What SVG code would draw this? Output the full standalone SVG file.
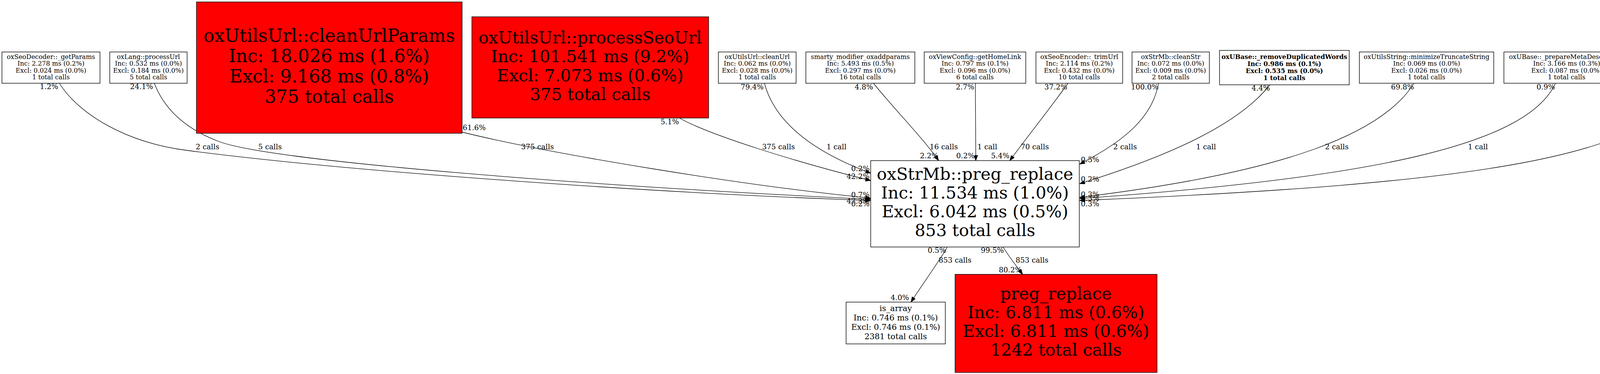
<svg xmlns="http://www.w3.org/2000/svg" width="4495" height="957" viewBox="0 0 4495 957">
<style>
text{font-family:"DejaVu Serif","Liberation Serif",serif;text-anchor:middle;fill:#000}
.node rect{fill:#fff;stroke:#000;stroke-width:1.4}
.node.hot rect{fill:#ff0000}
.s{font-size:16.3px}
.bold{font-weight:bold}
.m{font-size:20.5px}
.L{font-size:43px}
.XL{font-size:46px}
.edges path{fill:none;stroke:#000;stroke-width:1.3;marker-end:url(#arrow)}
.edges text{font-size:18.5px}
.st{text-anchor:start}
.en{text-anchor:end}
</style>
<defs>
<marker id="arrow" markerUnits="userSpaceOnUse" markerWidth="15" markerHeight="11" refX="13.5" refY="5" orient="auto">
<path d="M0,0 L13.5,5 L0,10 z" fill="#000" stroke="#000" stroke-width="1"/>
</marker>
</defs>
<rect x="0" y="0" width="4495" height="957" fill="#fff"/>

<g id="connectors" class="edges">
<g id="e-getParams">
<path d="M152,213 C200,290 320,365 480,385 C900,440 1700,495 2229,513"/>
<text x="125.5" y="228">1.2%</text>
<text class="st" x="501" y="382">2 calls</text>
</g>
<g id="e-processUrl">
<path d="M395,213 C415,265 460,325 563,363 C700,413 1500,475 2229,510"/>
<text x="362.5" y="228">24.1%</text>
<text class="st" x="661" y="382">5 calls</text>
</g>
<g id="e-cleanUrlParams">
<path d="M1183,338 C1400,392 1900,475 2229,507"/>
<text x="1214" y="333">61.6%</text>
<text class="st" x="1334" y="382">375 calls</text>
</g>
<g id="e-processSeoUrl">
<path d="M1739,302 C1820,347 2040,415 2229,462"/>
<text x="1714.5" y="318">5.1%</text>
<text class="st" x="1951" y="382">375 calls</text>
</g>
<g id="e-cleanUrl">
<path d="M1957,213 C1980,300 2060,380 2229,443"/>
<text x="1925.5" y="229">79.4%</text>
<text class="st" x="2116" y="382">1 call</text>
</g>
<g id="e-smarty">
<path d="M2236,213 C2290,280 2360,350 2403,411"/>
<text x="2211.5" y="229">4.8%</text>
<text class="st" x="2380" y="382">16 calls</text>
</g>
<g id="e-homeLink">
<path d="M2497,213 L2498,411"/>
<text x="2470.5" y="229">2.7%</text>
<text class="st" x="2502" y="382">1 call</text>
</g>
<g id="e-trimUrl">
<path d="M2734,213 C2690,275 2630,350 2585,411"/>
<text x="2703" y="229">37.2%</text>
<text class="st" x="2613" y="382">70 calls</text>
</g>
<g id="e-cleanStr">
<path d="M2966,213 C2950,300 2880,360 2764,420"/>
<text x="2930.5" y="229">100.0%</text>
<text class="st" x="2850" y="382">2 calls</text>
</g>
<g id="e-removeDup">
<path d="M3251,217 C3170,320 2990,400 2764,470"/>
<text x="3227.5" y="232">4.4%</text>
<text class="st" x="3062" y="382">1 call</text>
</g>
<g id="e-minimize">
<path d="M3620,213 C3540,340 3300,440 2764,505"/>
<text x="3590.5" y="229">69.8%</text>
<text class="st" x="3392" y="382">2 calls</text>
</g>
<g id="e-metaDesc">
<path d="M3982,213 C3910,370 3520,455 2764,508"/>
<text x="3957" y="229">0.9%</text>
<text class="st" x="3758" y="382">1 call</text>
</g>
<g id="e-canonical">
<path d="M4316,213 C4230,400 3800,470 2764,513"/>
<text x="4286.5" y="229">54.1%</text>
<text class="st" x="4110" y="382">2 calls</text>
</g>
<g id="e-is_array">
<path d="M2425,632 C2410,660 2360,730 2332,773"/>
<text class="st" x="2375" y="647">0.5%</text>
<text class="st" x="2403" y="672">853 calls</text>
<text class="st" x="2280" y="768">4.0%</text>
</g>
<g id="e-preg_replace">
<path d="M2568,632 C2585,660 2605,685 2618,702"/>
<text class="st" x="2511" y="647">99.5%</text>
<text class="st" x="2600" y="672">853 calls</text>
<text class="st" x="2557" y="697">80.2%</text>
</g>
<g id="head-labels">
<text class="en" x="2226" y="438">0.2%</text>
<text class="en" x="2226" y="458">42.2%</text>
<text class="en" x="2226" y="505">0.7%</text>
<text class="en" x="2226" y="521">47.3%</text>
<text class="en" x="2226" y="528">0.2%</text>
<text class="st" x="2355" y="405">2.2%</text>
<text class="st" x="2448" y="405">0.2%</text>
<text class="st" x="2537" y="405">5.4%</text>
<text class="st" x="2767" y="415">0.5%</text>
<text class="st" x="2767" y="465">0.2%</text>
<text class="st" x="2767" y="504">0.3%</text>
<text class="st" x="2767" y="514">0.3%</text>
<text class="st" x="2767" y="528">0.3%</text>
</g>
</g>

<g id="n-getParams" class="node">
<rect x="5" y="133" width="251" height="80"/>
<text class="s" x="130.5" y="151">oxSeoDecoder::_getParams</text>
<text class="s" x="130.5" y="168.3">Inc: 2.278 ms (0.2%)</text>
<text class="s" x="130.5" y="185.6">Excl: 0.024 ms (0.0%)</text>
<text class="s" x="130.5" y="203">1 total calls</text>
</g>
<g id="n-processUrl" class="node">
<rect x="281" y="133" width="198" height="80"/>
<text class="s" x="380" y="151">oxLang::processUrl</text>
<text class="s" x="380" y="168.3">Inc: 0.532 ms (0.0%)</text>
<text class="s" x="380" y="185.6">Excl: 0.184 ms (0.0%)</text>
<text class="s" x="380" y="203">5 total calls</text>
</g>
<g id="n-cleanUrlParams" class="node hot">
<rect x="503" y="5" width="680" height="336"/>
<text class="XL" x="843" y="106.5">oxUtilsUrl::cleanUrlParams</text>
<text class="XL" x="843" y="158.5">Inc: 18.026 ms (1.6%)</text>
<text class="XL" x="843" y="210.5">Excl: 9.168 ms (0.8%)</text>
<text class="XL" x="843" y="262.5">375 total calls</text>
</g>
<g id="n-processSeoUrl" class="node hot">
<rect x="1208" y="43" width="606" height="259"/>
<text class="L" x="1511" y="110.5">oxUtilsUrl::processSeoUrl</text>
<text class="L" x="1511" y="159">Inc: 101.541 ms (9.2%)</text>
<text class="L" x="1511" y="207.5">Excl: 7.073 ms (0.6%)</text>
<text class="L" x="1511" y="256">375 total calls</text>
</g>
<g id="n-cleanUrl" class="node">
<rect x="1839" y="133" width="199" height="80"/>
<text class="s" x="1938.5" y="151">oxUtilsUrl::cleanUrl</text>
<text class="s" x="1938.5" y="168.3">Inc: 0.062 ms (0.0%)</text>
<text class="s" x="1938.5" y="185.6">Excl: 0.028 ms (0.0%)</text>
<text class="s" x="1938.5" y="203">1 total calls</text>
</g>
<g id="n-smarty" class="node">
<rect x="2063" y="133" width="279" height="80"/>
<text class="s" x="2202.5" y="151">smarty_modifier_oxaddparams</text>
<text class="s" x="2202.5" y="168.3">Inc: 5.493 ms (0.5%)</text>
<text class="s" x="2202.5" y="185.6">Excl: 0.297 ms (0.0%)</text>
<text class="s" x="2202.5" y="203">16 total calls</text>
</g>
<g id="n-homeLink" class="node">
<rect x="2366" y="133" width="260" height="80"/>
<text class="s" x="2496" y="151">oxViewConfig::getHomeLink</text>
<text class="s" x="2496" y="168.3">Inc: 0.797 ms (0.1%)</text>
<text class="s" x="2496" y="185.6">Excl: 0.096 ms (0.0%)</text>
<text class="s" x="2496" y="203">6 total calls</text>
</g>
<g id="n-trimUrl" class="node">
<rect x="2652" y="133" width="222" height="80"/>
<text class="s" x="2763" y="151">oxSeoEncoder::_trimUrl</text>
<text class="s" x="2763" y="168.3">Inc: 2.114 ms (0.2%)</text>
<text class="s" x="2763" y="185.6">Excl: 0.432 ms (0.0%)</text>
<text class="s" x="2763" y="203">10 total calls</text>
</g>
<g id="n-cleanStr" class="node">
<rect x="2898" y="133" width="198" height="80"/>
<text class="s" x="2997" y="151">oxStrMb::cleanStr</text>
<text class="s" x="2997" y="168.3">Inc: 0.072 ms (0.0%)</text>
<text class="s" x="2997" y="185.6">Excl: 0.009 ms (0.0%)</text>
<text class="s" x="2997" y="203">2 total calls</text>
</g>
<g id="n-removeDup" class="node">
<rect x="3122" y="129" width="332" height="88"/>
<text class="s bold" x="3288" y="150.5">oxUBase::_removeDuplicatedWords</text>
<text class="s bold" x="3288" y="168.5">Inc: 0.986 ms (0.1%)</text>
<text class="s bold" x="3288" y="186.5">Excl: 0.535 ms (0.0%)</text>
<text class="s bold" x="3288" y="204.5">1 total calls</text>
</g>
<g id="n-minimize" class="node">
<rect x="3480" y="133" width="344" height="80"/>
<text class="s" x="3652" y="151">oxUtilsString::minimizeTruncateString</text>
<text class="s" x="3652" y="168.3">Inc: 0.069 ms (0.0%)</text>
<text class="s" x="3652" y="185.6">Excl: 0.026 ms (0.0%)</text>
<text class="s" x="3652" y="203">1 total calls</text>
</g>
<g id="n-metaDesc" class="node">
<rect x="3850" y="133" width="321" height="80"/>
<text class="s" x="4010.5" y="151">oxUBase::_prepareMetaDescription</text>
<text class="s" x="4010.5" y="168.3">Inc: 3.166 ms (0.3%)</text>
<text class="s" x="4010.5" y="185.6">Excl: 0.087 ms (0.0%)</text>
<text class="s" x="4010.5" y="203">1 total calls</text>
</g>
<g id="n-canonical" class="node">
<rect x="4195" y="133" width="296" height="80"/>
<text class="s" x="4343" y="151">oxUtilsUrl::prepareCanonicalUrl</text>
<text class="s" x="4343" y="168.3">Inc: 0.102 ms (0.0%)</text>
<text class="s" x="4343" y="185.6">Excl: 0.041 ms (0.0%)</text>
<text class="s" x="4343" y="203">1 total calls</text>
</g>
<g id="n-oxStrMb-preg_replace" class="node">
<rect x="2229" y="411" width="534" height="221"/>
<text class="L" x="2496" y="460.3">oxStrMb::preg_replace</text>
<text class="L" x="2496" y="508.3">Inc: 11.534 ms (1.0%)</text>
<text class="L" x="2496" y="556.3">Excl: 6.042 ms (0.5%)</text>
<text class="L" x="2496" y="604.3">853 total calls</text>
</g>
<g id="n-is_array" class="node">
<rect x="2166" y="773" width="254" height="107"/>
<text class="m" x="2293" y="795.6">is_array</text>
<text class="m" x="2293" y="819.6">Inc: 0.746 ms (0.1%)</text>
<text class="m" x="2293" y="843.6">Excl: 0.746 ms (0.1%)</text>
<text class="m" x="2293" y="867.6">2381 total calls</text>
</g>
<g id="n-preg_replace" class="node hot">
<rect x="2445" y="702" width="517" height="251"/>
<text class="L" x="2703.5" y="766">preg_replace</text>
<text class="L" x="2703.5" y="814">Inc: 6.811 ms (0.6%)</text>
<text class="L" x="2703.5" y="862">Excl: 6.811 ms (0.6%)</text>
<text class="L" x="2703.5" y="910">1242 total calls</text>
</g>
</svg>
